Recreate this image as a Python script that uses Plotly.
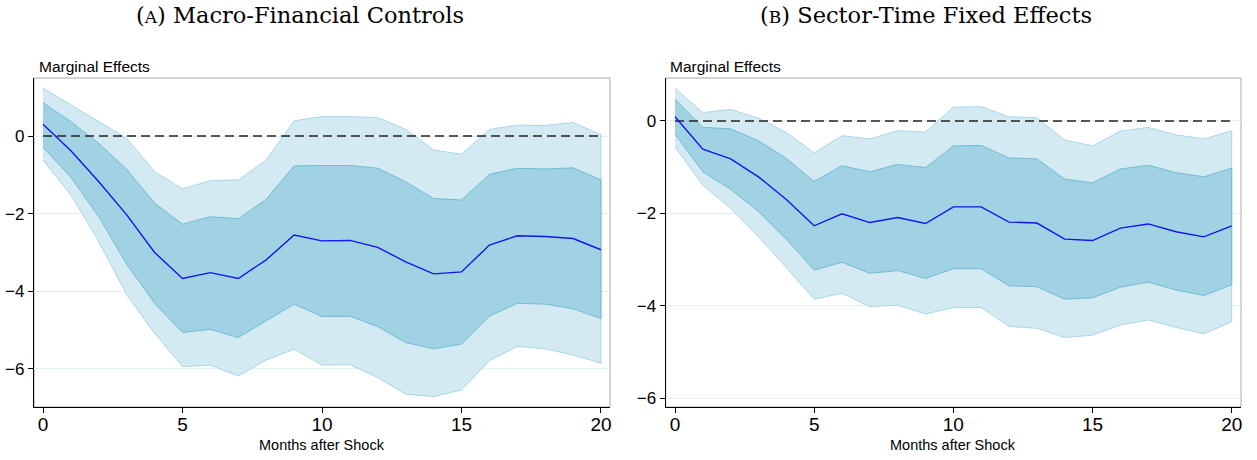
import plotly.graph_objects as go

W, H = 1257, 460

months = list(range(21))

# Panel A: Macro-Financial Controls
a_est = [0.30, -0.38, -1.18, -2.03, -3.00, -3.67, -3.52, -3.67, -3.19, -2.55, -2.70,
         -2.69, -2.87, -3.24, -3.55, -3.50, -2.81, -2.57, -2.59, -2.64, -2.93]
a_in_hi = [0.86, 0.37, -0.19, -0.86, -1.73, -2.27, -2.08, -2.13, -1.63, -0.77, -0.76,
           -0.76, -0.83, -1.18, -1.61, -1.65, -0.99, -0.83, -0.85, -0.82, -1.13]
a_in_lo = [-0.29, -1.06, -2.08, -3.30, -4.31, -5.06, -4.98, -5.19, -4.76, -4.33, -4.65,
           -4.64, -4.91, -5.32, -5.48, -5.36, -4.64, -4.31, -4.33, -4.45, -4.70]
a_out_hi = [1.23, 0.80, 0.37, -0.06, -0.92, -1.36, -1.15, -1.13, -0.62, 0.39, 0.50,
            0.50, 0.47, 0.17, -0.36, -0.47, 0.17, 0.28, 0.27, 0.35, 0.03]
a_out_lo = [-0.62, -1.52, -2.72, -4.09, -5.08, -5.94, -5.90, -6.18, -5.77, -5.49, -5.90,
            -5.89, -6.22, -6.65, -6.71, -6.54, -5.79, -5.42, -5.48, -5.64, -5.85]

# Panel B: Sector-Time Fixed Effects
b_est = [0.09, -0.61, -0.82, -1.21, -1.70, -2.27, -2.01, -2.20, -2.09, -2.22, -1.86,
         -1.86, -2.19, -2.21, -2.56, -2.59, -2.32, -2.23, -2.40, -2.51, -2.27]
b_in_hi = [0.47, -0.14, -0.17, -0.43, -0.81, -1.31, -0.97, -1.10, -0.94, -1.01, -0.54,
           -0.53, -0.80, -0.82, -1.26, -1.34, -1.04, -0.96, -1.12, -1.21, -1.02]
b_in_lo = [-0.28, -1.10, -1.48, -1.96, -2.56, -3.23, -3.06, -3.30, -3.24, -3.41, -3.20,
           -3.20, -3.57, -3.59, -3.86, -3.83, -3.60, -3.49, -3.66, -3.78, -3.55]
b_out_hi = [0.71, 0.18, 0.25, 0.06, -0.25, -0.69, -0.32, -0.39, -0.21, -0.24, 0.30,
            0.31, 0.09, 0.07, -0.41, -0.54, -0.22, -0.14, -0.30, -0.39, -0.21]
b_out_lo = [-0.56, -1.39, -1.89, -2.51, -3.17, -3.86, -3.73, -4.02, -3.99, -4.18, -4.04,
            -4.04, -4.45, -4.49, -4.69, -4.64, -4.42, -4.31, -4.47, -4.61, -4.35]

titles = ["(<span style='font-size:17px'>A</span>) Macro-Financial Controls",
          "(<span style='font-size:17px'>B</span>) Sector-Time Fixed Effects"]
y_title = "Marginal Effects"
x_title = "Months after Shock"
x_ticks = [0, 5, 10, 15, 20]
y_ticks = [-6, -4, -2, 0]

OUT_FILL = "rgba(212,234,242,1)"
OUT_EDGE = "rgba(170,214,230,1)"
IN_FILL = "rgba(160,210,227,1)"
IN_EDGE = "rgba(112,187,214,1)"
EST_COL = "#1414f0"

fig = go.Figure()

panels = [
    dict(est=a_est, ih=a_in_hi, il=a_in_lo, oh=a_out_hi, ol=a_out_lo,
         xd=[34 / W, 610 / W], xr=[-0.323, 20.323], yr=[-6.98, 1.494], xa="x", ya="y"),
    dict(est=b_est, ih=b_in_hi, il=b_in_lo, oh=b_out_hi, ol=b_out_lo,
         xd=[665.7 / W, 1241 / W], xr=[-0.334, 20.334], yr=[-6.195, 0.931], xa="x2", ya="y2"),
]
ydom = [1 - 407 / H, 1 - 78 / H]

for i, p in enumerate(panels):
    xs = months + months[::-1]
    fig.add_trace(go.Scatter(x=xs, y=p["oh"] + p["ol"][::-1], fill="toself",
                             fillcolor=OUT_FILL, line=dict(color=OUT_EDGE, width=1),
                             mode="lines", xaxis=p["xa"], yaxis=p["ya"], showlegend=False,
                             hoverinfo="skip"))
    fig.add_trace(go.Scatter(x=xs, y=p["ih"] + p["il"][::-1], fill="toself",
                             fillcolor=IN_FILL, line=dict(color=IN_EDGE, width=1),
                             mode="lines", xaxis=p["xa"], yaxis=p["ya"], showlegend=False,
                             hoverinfo="skip"))
    fig.add_trace(go.Scatter(x=[months[0], months[-1]], y=[0, 0], mode="lines",
                             line=dict(color="#222222", width=1.4, dash="9px,5px"),
                             xaxis=p["xa"], yaxis=p["ya"], showlegend=False))
    fig.add_trace(go.Scatter(x=months, y=p["est"], mode="lines",
                             line=dict(color=EST_COL, width=1.4),
                             xaxis=p["xa"], yaxis=p["ya"], showlegend=False))

    xkey = "xaxis" if i == 0 else "xaxis2"
    ykey = "yaxis" if i == 0 else "yaxis2"
    fig.update_layout(**{
        xkey: dict(domain=p["xd"], range=p["xr"], anchor=p["ya"], tickvals=x_ticks,
                   ticks="outside", ticklen=5, tickcolor="black", tickwidth=1,
                   ticklabelstandoff=-5,
                   showline=True, linecolor="black", linewidth=1.3, showgrid=False,
                   zeroline=False, tickfont=dict(family="Liberation Sans", size=19, color="black"),
                   automargin=False),
        ykey: dict(domain=ydom, range=p["yr"], anchor=p["xa"], tickvals=y_ticks,
                   ticks="outside", ticklen=5, tickcolor="black", tickwidth=1,
                   showline=True, linecolor="black", linewidth=1.3, showgrid=True,
                   gridcolor="#e4eff1", gridwidth=1, zeroline=False,
                   tickfont=dict(family="Liberation Sans", size=17, color="black"),
                   automargin=False),
    })
    # gray frame (top & right)
    fig.add_shape(type="rect", xref="paper", yref="paper",
                  x0=p["xd"][0], x1=p["xd"][1], y0=ydom[0], y1=ydom[1],
                  line=dict(color="#a8a8a8", width=1), layer="below")

    xc = (p["xd"][0] + p["xd"][1]) / 2
    fig.add_annotation(text=titles[i], xref="paper", yref="paper",
                       x=(300 if i == 0 else 926) / W, y=1 - 15 / H,
                       xanchor="center", yanchor="middle", showarrow=False,
                       font=dict(family="DejaVu Serif", size=22.5, color="black"))
    fig.add_annotation(text=y_title, xref="paper", yref="paper",
                       x=(37 if i == 0 else 668) / W, y=1 - 67 / H,
                       xanchor="left", yanchor="middle", showarrow=False,
                       font=dict(family="Liberation Sans", size=15.5, color="black"))
    fig.add_annotation(text=x_title, xref="paper", yref="paper",
                       x=xc, y=1 - 445 / H, xanchor="center", yanchor="middle",
                       showarrow=False,
                       font=dict(family="Liberation Sans", size=14.5, color="black"))

fig.update_layout(width=W, height=H, margin=dict(l=0, r=0, t=0, b=0),
                  paper_bgcolor="white", plot_bgcolor="white", showlegend=False)

fig.write_html("out.html", config={"displayModeBar": False},
               post_script="document.body.style.margin='0';document.body.style.overflow='hidden';")
